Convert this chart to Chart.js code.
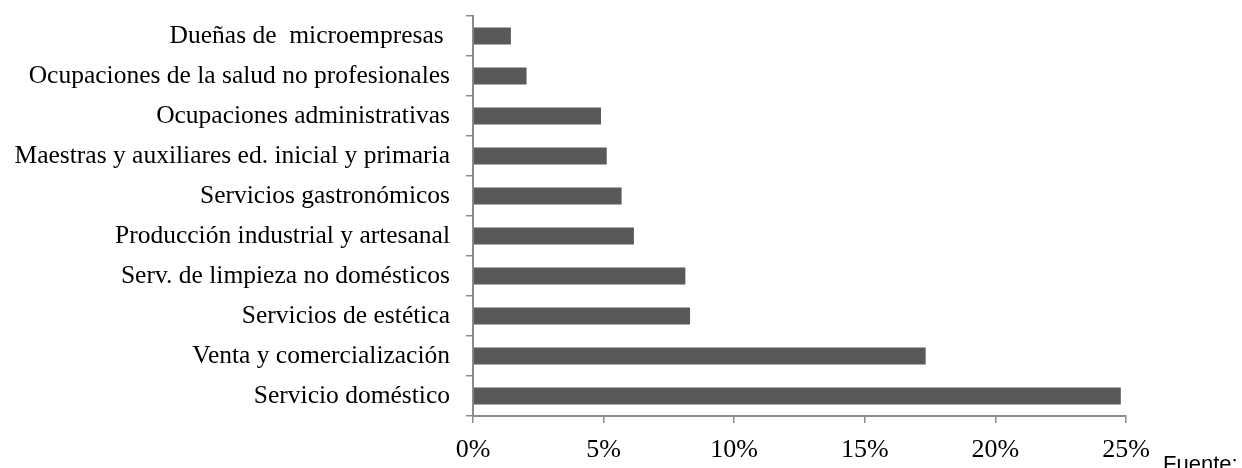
<!DOCTYPE html>
<html>
<head>
<meta charset="utf-8">
<script src="https://cdn.jsdelivr.net/npm/chart.js@4/dist/chart.umd.min.js"></script>
<style>
  html, body { margin: 0; padding: 0; background: #fff; }
  #wrap { position: relative; width: 1242px; height: 468px; }
</style>
</head>
<body>
<div id="wrap"><canvas id="c" width="1242" height="468"></canvas></div>
<script>
// Occupations (top to bottom) and their share, in percent
const categories = [
  "Dueñas de  microempresas ",
  "Ocupaciones de la salud no profesionales",
  "Ocupaciones administrativas",
  "Maestras y auxiliares ed. inicial y primaria",
  "Servicios gastronómicos",
  "Producción industrial y artesanal",
  "Serv. de limpieza no domésticos",
  "Servicios de estética",
  "Venta y comercialización",
  "Servicio doméstico"
];
const shares = [1.45, 2.05, 4.9, 5.12, 5.69, 6.16, 8.13, 8.31, 17.33, 24.8];
const xTicks = [0, 5, 10, 15, 20, 25];
const sourceNote = "Fuente:";

const axisGrey = "#8c8c8c";
const serif = "'Liberation Serif', 'Times New Roman', serif";

const sourcePlugin = {
  id: "sourceNote",
  afterDraw(chart) {
    const ctx = chart.ctx;
    ctx.save();
    ctx.fillStyle = "#000";
    ctx.font = "22px 'Liberation Sans', Arial, sans-serif";
    ctx.textAlign = "left";
    ctx.textBaseline = "alphabetic";
    ctx.fillText(sourceNote, 1163, 471);
    ctx.restore();
  }
};

new Chart(document.getElementById("c"), {
  type: "bar",
  data: {
    labels: categories,
    datasets: [{
      data: shares,
      backgroundColor: "#595959",
      borderWidth: 0,
      barPercentage: 0.43,
      categoryPercentage: 1.0
    }]
  },
  options: {
    indexAxis: "y",
    responsive: false,
    animation: false,
    layout: { padding: { top: 16, right: 116, left: 0, bottom: 0 } },
    plugins: { legend: { display: false }, tooltip: { enabled: false } },
    scales: {
      x: {
        min: 0,
        max: 25,
        afterBuildTicks(scale) { scale.ticks = xTicks.map(v => ({ value: v })); },
        afterFit(scale) { scale.height = 52; scale.paddingLeft = 0; scale.paddingRight = 0; },
        ticks: {
          callback: v => v + "%",
          color: "#000",
          font: { family: serif, size: 26 },
          padding: 12,
          maxRotation: 0
        },
        grid: { drawOnChartArea: false, drawTicks: true, tickLength: 7, color: axisGrey, lineWidth: 1.5 },
        border: { display: true, color: axisGrey, width: 2 }
      },
      y: {
        afterFit(scale) { scale.width = 473; scale.paddingTop = 0; scale.paddingBottom = 0; },
        ticks: {
          color: "#000",
          font: { family: serif, size: 25.5 },
          padding: 16,
          autoSkip: false
        },
        grid: { drawOnChartArea: false, drawTicks: true, tickLength: 7, color: axisGrey, lineWidth: 1.5, offset: true },
        border: { display: true, color: axisGrey, width: 2 }
      }
    }
  },
  plugins: [sourcePlugin]
});
</script>
</body>
</html>
